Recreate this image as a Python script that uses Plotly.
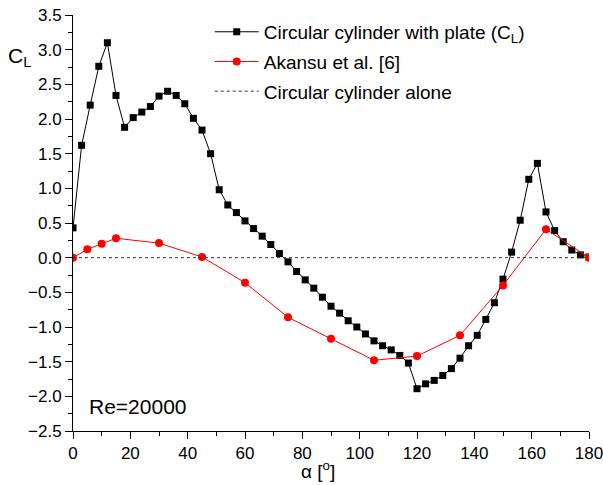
import plotly.graph_objects as go

# Lift coefficient of the circular cylinder with plate, every 3 degrees
alpha_plate = list(range(0, 181, 3))
cl_plate = [
    0.43, 1.62, 2.20, 2.76, 3.10, 2.34, 1.88, 2.02, 2.10, 2.18,
    2.33, 2.40, 2.34, 2.22, 2.01, 1.84, 1.50, 0.98, 0.76, 0.65,
    0.53, 0.42, 0.31, 0.19, 0.06, -0.06, -0.20, -0.32, -0.44, -0.57,
    -0.70, -0.80, -0.91, -1.00, -1.10, -1.20, -1.27, -1.33, -1.41, -1.52,
    -1.89, -1.82, -1.77, -1.70, -1.60, -1.45, -1.27, -1.12, -0.89, -0.65,
    -0.31, 0.08, 0.54, 1.13, 1.36, 0.66, 0.39, 0.23, 0.11, 0.04,
    0.01,
]

# Akansu et al. [6]
alpha_ref = [0, 5, 10, 15, 30, 45, 60, 75, 90, 105, 120, 135, 150, 165, 180]
cl_ref = [0.0, 0.12, 0.20, 0.28, 0.21, 0.01, -0.36, -0.86, -1.17, -1.48,
          -1.42, -1.12, -0.40, 0.41, 0.0]

# Circular cylinder alone
alpha_alone = [0, 180]
cl_alone = [0.0, 0.0]

font_family = "Liberation Sans, Arial, sans-serif"

fig = go.Figure()
fig.add_trace(go.Scatter(
    x=alpha_plate, y=cl_plate, mode="lines+markers",
    name="Circular cylinder with plate (C<sub>L</sub>)",
    line=dict(color="black", width=1),
    marker=dict(symbol="square", size=7, color="black"),
    legendgroup="a",
))
fig.add_trace(go.Scatter(
    x=alpha_ref, y=cl_ref, mode="lines+markers",
    name="Akansu et al. [6]",
    line=dict(color="red", width=1),
    marker=dict(symbol="circle", size=8, color="red"),
    legendgroup="b",
))
fig.add_trace(go.Scatter(
    x=alpha_alone, y=cl_alone, mode="lines",
    name="Circular cylinder alone",
    line=dict(color="#333333", width=1, dash="dot"),
    legendgroup="c",
))

axis_common = dict(
    showgrid=False, zeroline=False, showline=True, linecolor="black",
    linewidth=1, ticks="outside", ticklen=7, tickwidth=1, tickcolor="black",
    tickfont=dict(family=font_family, size=17, color="black"),
    mirror=False, automargin=False, ticklabeloverflow="allow",
)

fig.update_layout(
    width=603, height=485,
    margin=dict(l=73, r=14, t=15, b=54, autoexpand=False),
    paper_bgcolor="white", plot_bgcolor="white",
    font=dict(family=font_family, color="black"),
    showlegend=True,
    legend=dict(
        x=0.265, y=1.005, xanchor="left", yanchor="top",
        font=dict(family=font_family, size=19, color="black"),
        bgcolor="rgba(0,0,0,0)", borderwidth=0,
        itemwidth=44, tracegroupgap=2,
    ),
    xaxis=dict(
        axis_common, range=[0, 180], tick0=0, dtick=20,
        minor=dict(dtick=10, ticks="outside", ticklen=4, tickcolor="black"),
    ),
    yaxis=dict(
        axis_common, range=[-2.5, 3.5], tick0=-2.5, dtick=0.5,
        tickformat=".1f",
        minor=dict(dtick=0.25, ticks="outside", ticklen=4, tickcolor="black"),
    ),
    annotations=[
        dict(text="C<sub>L</sub>", xref="paper", yref="paper",
             x=-0.13, y=0.9, xanchor="left", yanchor="middle",
             showarrow=False, font=dict(size=21, family=font_family)),
        dict(text="α [<sup>o</sup>]", xref="paper", yref="paper",
             x=0.475, y=-0.094, xanchor="center", yanchor="middle",
             showarrow=False, font=dict(size=19, family=font_family)),
        dict(text="Re=20000", xref="paper", yref="paper",
             x=0.027, y=0.06, xanchor="left", yanchor="middle",
             showarrow=False, font=dict(size=21, family=font_family)),
    ],
)

fig.write_html("out.html")
